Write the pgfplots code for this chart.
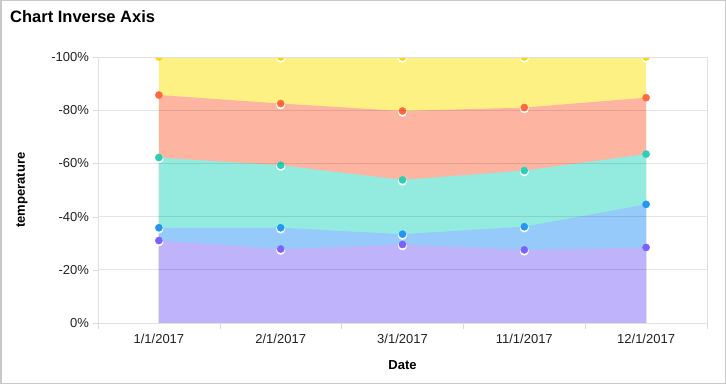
\documentclass[border=0pt]{standalone}
\usepackage{fontspec}
\setmainfont{Liberation Sans}
\usepackage{pgfplots}
\pgfplotsset{compat=1.18}
\definecolor{bordergray}{HTML}{C8C8C8}
\definecolor{apurple}{HTML}{BFB4FB}
\definecolor{ablue}{HTML}{96CAFB}
\definecolor{ateal}{HTML}{93EBE0}
\definecolor{asalmon}{HTML}{FDB4A1}
\definecolor{ayellow}{HTML}{FEF183}
\definecolor{mpurple}{HTML}{7B61FF}
\definecolor{mblue}{HTML}{2196F3}
\definecolor{mteal}{HTML}{2BCFB5}
\definecolor{morange}{HTML}{FF6A3D}
\definecolor{myellow}{HTML}{FFD700}
\definecolor{txt}{HTML}{222222}
\pgfplotsset{wring/.style={only marks, mark=*, color=white, mark size=4.3pt, mark options={yshift=-1.2pt}},
  cmark/.style={only marks, mark=*, color=#1, mark size=3.6pt}}
\begin{document}
\begin{tikzpicture}
\draw[draw=bordergray, line width=1.5pt, fill=white] (0.75pt,0.75pt) rectangle (725.25pt,383.25pt);
\node[anchor=base west, inner sep=0pt, font=\fontsize{16.5}{19}\selectfont\bfseries] at (10pt,362pt) {Chart Inverse Axis};
\begin{axis}[
  at={(98pt,61pt)}, anchor=south west,
  scale only axis, width=609pt, height=266pt,
  xmin=-0.5, xmax=4.5, ymin=0, ymax=100,
  axis on top,
  clip marker paths=true,
  xtick={0,1,2,3,4},
  xticklabels={1/1/2017,2/1/2017,3/1/2017,11/1/2017,12/1/2017},
  minor xtick={-0.5,0.5,1.5,2.5,3.5,4.5},
  major x tick style={draw=none},
  minor x tick style={draw=black!15},
  minor tick length=6pt,
  ytick={0,20,40,60,80,100},
  yticklabels={0\%,-20\%,-40\%,-60\%,-80\%,-100\%},
  y tick style={draw=black!15},
  major tick length=5pt,
  tick align=outside,
  tick pos=left,
  ymajorgrids,
  grid style={draw=black, opacity=0.1, line width=0.8pt},
  axis line style={draw=black!12, line width=0.8pt},
  ticklabel style={font=\fontsize{13}{15}\selectfont, text=txt},
  xticklabel style={yshift=-2.5pt},
  yticklabel style={xshift=-0.5pt},
  xlabel={Date}, ylabel={temperature},
  every axis x label/.style={at={(rel axis cs:0.5,0)}, yshift=-42pt, anchor=center, font=\fontsize{13}{15}\selectfont\bfseries},
  every axis y label/.style={at={(rel axis cs:0,0.5)}, xshift=-76pt, rotate=90, anchor=center, font=\fontsize{13}{15}\selectfont\bfseries},
]
% areas (cumulative tops)
\addplot[draw=none, fill=ayellow] coordinates {(0,100)(1,100)(2,100)(3,100)(4,100)} \closedcycle;
\addplot[draw=none, fill=asalmon] coordinates {(0,85.7)(1,82.5)(2,79.7)(3,81.0)(4,84.7)} \closedcycle;
\addplot[draw=none, fill=ateal] coordinates {(0,62.2)(1,59.3)(2,53.8)(3,57.3)(4,63.5)} \closedcycle;
\addplot[draw=none, fill=ablue] coordinates {(0,35.8)(1,35.8)(2,33.4)(3,36.2)(4,44.6)} \closedcycle;
\addplot[draw=none, fill=apurple] coordinates {(0,31.0)(1,27.8)(2,29.5)(3,27.5)(4,28.4)} \closedcycle;
% markers: white shadow rings
\addplot[wring] coordinates {(1,100)(2,100)(3,100)(4,100)};
\addplot[wring] coordinates {(1,82.5)(2,79.7)(3,81.0)};
\addplot[wring] coordinates {(1,59.3)(2,53.8)(3,57.3)};
\addplot[wring] coordinates {(1,35.8)(2,33.4)(3,36.2)};
\addplot[wring] coordinates {(0,31.0)(1,27.8)(2,29.5)(3,27.5)};
\addplot[wring] coordinates {(0,62.2)(0,35.8)};
\addplot[cmark=myellow] coordinates {(0,100)(1,100)(2,100)(3,100)(4,100)};
\addplot[cmark=morange] coordinates {(0,85.7)(1,82.5)(2,79.7)(3,81.0)(4,84.7)};
\addplot[cmark=mteal] coordinates {(0,62.2)(1,59.3)(2,53.8)(3,57.3)(4,63.5)};
\addplot[cmark=mblue] coordinates {(0,35.8)(1,35.8)(2,33.4)(3,36.2)(4,44.6)};
\addplot[cmark=mpurple] coordinates {(0,31.0)(1,27.8)(2,29.5)(3,27.5)(4,28.4)};
\end{axis}
\end{tikzpicture}
\end{document}
